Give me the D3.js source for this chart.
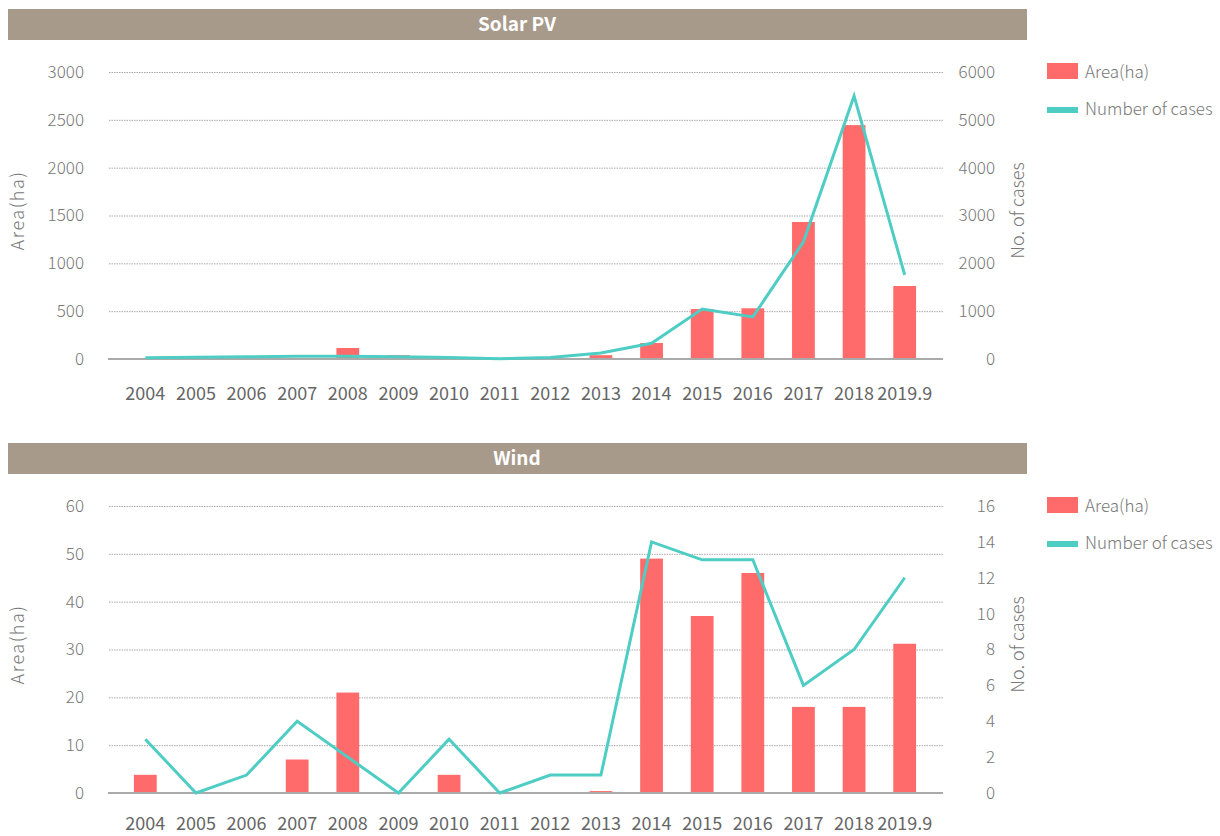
<!DOCTYPE html>
<html>
<head>
<meta charset="utf-8">
<script src="https://cdn.jsdelivr.net/npm/d3@7"></script>
<style>
  html, body { margin: 0; padding: 0; background: #fff; }
  svg { display: block; }
  text { font-family: "Noto Sans CJK KR", "Noto Sans", sans-serif; }
</style>
</head>
<body>
<svg id="chart" width="1220" height="836"></svg>
<script>
// ---------- data ----------
const years = ["2004","2005","2006","2007","2008","2009","2010","2011","2012","2013","2014","2015","2016","2017","2018","2019.9"];

const solarArea  = [0, 0, 0, 0, 115, 40, 0, 0, 0, 40, 167, 522, 530, 1432, 2445, 763];
const solarCases = [25, 35, 45, 55, 60, 45, 30, 5, 30, 125, 330, 1045, 880, 2450, 5500, 1760];

const windArea  = [3.8, 0, 0, 7, 21, 0, 3.8, 0, 0, 0.4, 49, 37, 46, 18, 18, 31.2];
const windCases = [3, 0, 1, 4, 2, 0, 3, 0, 1, 1, 14, 13, 13, 6, 8, 12];

const solarLeftTicks  = [0, 500, 1000, 1500, 2000, 2500, 3000];
const solarRightTicks = [0, 1000, 2000, 3000, 4000, 5000, 6000];
const windLeftTicks   = [0, 10, 20, 30, 40, 50, 60];
const windRightTicks  = [0, 2, 4, 6, 8, 10, 12, 14, 16];

const panelTitles = ["Solar PV", "Wind"];
const legendLabels = ["Area(ha)", "Number of cases"];
const leftAxisTitle = "Area(ha)";
const rightAxisTitle = "No. of cases";

// ---------- styles ----------
const BAR = "#ff6b6b", LINE = "#4ecdc4", TITLEBG = "#a89a8b";
const FONT = '"Noto Sans CJK KR", "Noto Sans", sans-serif';

const svg = d3.select("#chart");

function drawPanel(o) {
  const g = svg.append("g");
  const plotTop = o.top + 63, plotBottom = o.top + 350;

  // title bar
  g.append("rect").attr("x", 8).attr("y", o.top).attr("width", 1019).attr("height", 31).attr("fill", TITLEBG);
  g.append("text").attr("x", 517).attr("y", o.top + 22).attr("text-anchor", "middle")
    .attr("fill", "#fff").attr("font-size", 19).attr("font-weight", 700).text(o.title);

  const x = d3.scaleBand().domain(years).range([120, 930]).paddingInner(0.55).paddingOuter(0.275);
  const yL = d3.scaleLinear().domain([o.leftTicks[0], o.leftTicks[o.leftTicks.length-1]]).range([plotBottom, plotTop]);
  const yR = d3.scaleLinear().domain([o.rightTicks[0], o.rightTicks[o.rightTicks.length-1]]).range([plotBottom, plotTop]);

  // gridlines
  g.append("g").attr("transform", "translate(943,0)").attr("class","grid")
    .call(d3.axisRight(yL).tickValues(o.leftTicks.slice(1)).tickSize(-835).tickFormat(""))
    .call(s => s.select(".domain").remove())
    .call(s => s.selectAll("line").attr("stroke", "#aaa").attr("stroke-dasharray", "1.5,1"));

  // left axis labels
  g.append("g").attr("transform", "translate(84,0)")
    .call(d3.axisLeft(yL).tickValues(o.leftTicks).tickSize(0).tickPadding(0).tickFormat(d3.format("d")))
    .call(s => s.select(".domain").remove())
    .call(s => s.selectAll("text").attr("font-size", 17).attr("font-weight", 300).attr("fill", "#777")
      .style("font-family", FONT));

  // right axis labels
  g.append("g").attr("transform", "translate(995,0)")
    .call(d3.axisLeft(yR).tickValues(o.rightTicks).tickSize(0).tickPadding(0).tickFormat(d3.format("d")))
    .call(s => s.select(".domain").remove())
    .call(s => s.selectAll("text").attr("font-size", 17).attr("font-weight", 300).attr("fill", "#777")
      .style("font-family", FONT));

  // x axis labels
  g.append("g").attr("transform", `translate(0,${plotBottom})`)
    .call(d3.axisBottom(x).tickSize(0).tickPadding(o.xPad))
    .call(s => s.select(".domain").remove())
    .call(s => s.selectAll("text").attr("font-size", 18).attr("font-weight", 400).attr("fill", "#666")
      .style("font-family", FONT));

  // bars
  g.append("g").selectAll("rect").data(o.area).join("rect")
    .attr("x", (d, i) => x(years[i])).attr("width", x.bandwidth())
    .attr("y", d => yL(d)).attr("height", d => plotBottom - yL(d)).attr("fill", BAR);

  // baseline
  g.append("line").attr("x1", 108).attr("x2", 943).attr("y1", plotBottom).attr("y2", plotBottom)
    .attr("stroke", "#aaa").attr("stroke-width", 2);

  // line
  const line = d3.line().x((d, i) => x(years[i]) + x.bandwidth()/2).y(d => yR(d));
  g.append("path").datum(o.cases).attr("d", line).attr("fill", "none")
    .attr("stroke", LINE).attr("stroke-width", 3).attr("stroke-linejoin", "miter");

  // axis titles
  const midY = (plotTop + plotBottom) / 2 - 5;
  g.append("text").attr("transform", `translate(24,${midY}) rotate(-90)`).attr("text-anchor", "middle")
    .attr("font-size", 18).attr("font-weight", 300).attr("fill", "#777").attr("letter-spacing", "1.5px").text(leftAxisTitle);
  g.append("text").attr("transform", `translate(1024,${midY}) rotate(-90)`).attr("text-anchor", "middle")
    .attr("font-size", 18).attr("font-weight", 300).attr("fill", "#777").text(rightAxisTitle);

  // legend
  const lg = g.append("g").attr("transform", `translate(1047,${plotTop - 9})`);
  lg.append("rect").attr("x", 0).attr("y", 0).attr("width", 31).attr("height", 16).attr("fill", BAR);
  lg.append("text").attr("x", 38).attr("y", 15).attr("font-size", 17).attr("font-weight", 300)
    .attr("fill", "#777").text(legendLabels[0]);
  lg.append("rect").attr("x", 0).attr("y", 44).attr("width", 31).attr("height", 6).attr("fill", LINE);
  lg.append("text").attr("x", 38).attr("y", 52).attr("font-size", 17).attr("font-weight", 300)
    .attr("fill", "#777").text(legendLabels[1]);
}

drawPanel({ top: 9, title: panelTitles[0], area: solarArea, cases: solarCases, leftTicks: solarLeftTicks, rightTicks: solarRightTicks, xPad: 28 });
drawPanel({ top: 443, title: panelTitles[1], area: windArea, cases: windCases, leftTicks: windLeftTicks, rightTicks: windRightTicks, xPad: 24 });
</script>
</body>
</html>
